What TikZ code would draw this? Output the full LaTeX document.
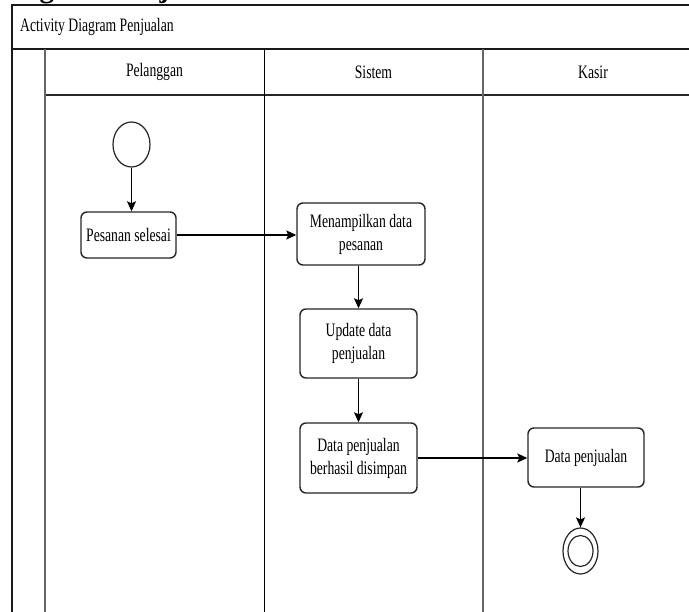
\documentclass[tikz,border=0pt]{standalone}
\usepackage{fontspec}
\usepackage{graphicx}
\setmainfont{Liberation Serif}
\usetikzlibrary{shapes.geometric,arrows.meta}
\newcommand{\narrowtxt}[1]{\scalebox{0.72}[1]{#1}}
\begin{document}
\begin{tikzpicture}[x=1pt,y=-1pt,
  laneline/.style={draw=black!85, line width=1.3pt},
  frameline/.style={draw=black!90, line width=1.7pt},
  label/.style={font=\fontsize{19}{23}\selectfont, inner sep=0pt},
  actbox/.style={draw=black!85, line width=1.4pt, rounded corners=6pt, fill=white,
    align=center, inner sep=0pt, font=\fontsize{19}{23}\selectfont},
  startnode/.style={ellipse, draw=black!85, line width=1.2pt, fill=white, inner sep=0pt},
  flowline/.style={draw=black, line width=1.2pt, -{Stealth[length=10pt,width=9pt,inset=2pt]}}
]
\useasboundingbox (0,0) rectangle (689,612);
\fill[white] (0,0) rectangle (689,612);

\begin{scope}
\clip (0,0) rectangle (689,612);
% heading of the page above, mostly cut off
\node[anchor=base west, inner sep=0pt, font=\fontsize{29}{34}\selectfont\bfseries]
  (heading) at (-4,-2) {Diagram Penjualan};

% pool frame and swimlanes
\draw[frameline] (12,700) -- (12,5) -- (720,5);
\draw[frameline] (12,49) -- (720,49);
\draw[laneline] (45,95) -- (720,95);
\draw[laneline, draw=black!60] (45,49) -- (45,700);
\draw[laneline, line width=1pt, draw=black] (264,49) -- (264,700);
\draw[laneline, draw=black!60] (483,49) -- (483,700);
\end{scope}

% pool title and lane headers
\node[label, anchor=west] (pooltitle) at (20,27) {\narrowtxt{Activity Diagram Penjualan}};
\node[label] (lanea) at (154.5,72) {\narrowtxt{Pelanggan}};
\node[label] (laneb) at (373.5,72) {\narrowtxt{Sistem}};
\node[label] (lanec) at (593,72) {\narrowtxt{Kasir}};

% activities
\node[startnode, minimum width=37pt, minimum height=45pt] (start) at (131.5,144.5) {};
\node[actbox, minimum width=95pt, minimum height=46pt] (pesanan) at (128.5,235)
  {\narrowtxt{Pesanan selesai}};
\node[actbox, minimum width=128pt, minimum height=62pt] (tampil) at (361,234)
  {\narrowtxt{Menampilkan data}\\\narrowtxt{pesanan}};
\node[actbox, minimum width=117pt, minimum height=69pt] (update) at (358.5,343.5)
  {\narrowtxt{Update data}\\\narrowtxt{penjualan}};
\node[actbox, minimum width=117pt, minimum height=70pt] (simpan) at (358.5,458)
  {\narrowtxt{Data penjualan}\\\narrowtxt{berhasil disimpan}};
\node[actbox, minimum width=116pt, minimum height=59pt] (kasirdata) at (586,457.5)
  {\narrowtxt{Data penjualan}};
\node[startnode, minimum width=35pt, minimum height=46pt] (final) at (580.5,551) {};
\node[startnode, minimum width=25pt, minimum height=31pt] (finalin) at (580.5,551) {};

% control flow
\draw[flowline] (start.south) -- (start.south |- pesanan.north);
\draw[flowline] (pesanan.east) -- (pesanan.east -| tampil.west);
\draw[flowline] (update.north |- tampil.south) -- (update.north);
\draw[flowline] (update.south) -- (simpan.north);
\draw[flowline] (simpan.east) -- (simpan.east -| kasirdata.west);
\draw[flowline] (final.north |- kasirdata.south) -- (final.north);
\end{tikzpicture}
\end{document}
